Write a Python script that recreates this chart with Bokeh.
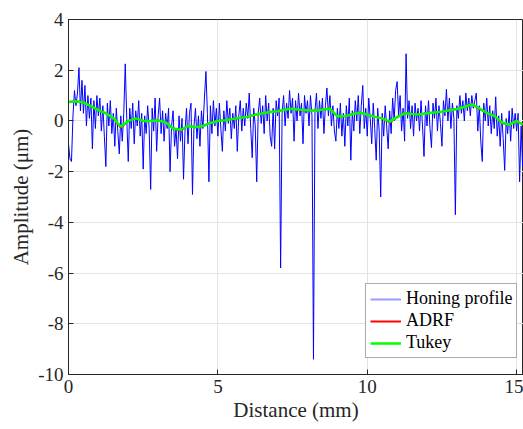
import numpy as np
from bokeh.plotting import figure
from bokeh.models import Range1d, FixedTicker, Legend, LegendItem
from bokeh.embed import file_html
from bokeh.resources import INLINE

# ---- data ----
step = 0.05  # sampling distance of the profile (mm)
profile = [
    -0.9, -1.5, -1.6, 0.2, 1.2, 0.6, 1.1, 2.1, 0.4, 1.6, 0.3, 1.4, -0.2, 1.0, 0.1, 0.9, -1.1, 0.8, -0.3, 1.0,
    0.2, 0.9, -0.4, 0.6, -0.6, -1.8, 0.7, -0.2, 0.8, -0.5, 0.3, -1.0, 0.5, -0.4, -1.3, 0.2, -0.8, 0.3, 2.25, 0.1,
    -1.6, 0.5, -0.3, 0.7, -0.9, 0.4, -0.2, 0.8, -0.6, 0.3, -1.9, 0.2, -0.5, 0.6, -0.3, -2.7, 0.5, -0.4, 0.9, -1.2,
    0.2, 0.9, -0.5, 0.4, -0.8, 0.3, -0.3, 0.5, -2.0, -0.2, 0.4, -1.0, -0.3, -1.5, 0.2, -0.8, 0.1, -2.3, -0.4, 0.5,
    -0.9, 0.3, 0.7, -2.9, -0.2, 0.5, -0.7, 0.2, -1.0, 0.4, -0.3, 0.9, 1.95, 0.3, -2.4, 0.6, -0.5, 0.8, -0.2, 0.5,
    -0.6, 0.7, -0.3, -1.2, 0.4, -0.4, 0.8, -0.1, 0.5, -0.7, 0.3, -0.3, 0.6, -1.2, 0.2, 0.8, -0.4, 0.5, -0.2, 0.7,
    0.1, 1.1, -0.3, -1.45, 0.5, -0.2, -2.4, 0.3, 0.9, -0.1, 0.6, -0.5, 1.0, 0.0, 0.7, -0.6, -1.0, 0.5, -1.1, 0.8,
    0.2, 0.9, -5.8, 0.3, 1.0, -0.2, 0.7, 0.1, 1.2, 0.3, 0.9, -0.8, 0.8, 0.0, 1.1, 0.2, 0.7, -0.9, 1.0, 0.3,
    0.8, -0.2, 1.0, 0.2, -9.4, 0.4, 1.1, -0.3, 0.8, 0.1, 0.9, -0.5, 0.6, 1.3, 0.2, 1.0, -0.2, 0.6, -0.4, -0.8,
    0.5, -0.3, 0.7, -0.6, 0.3, -1.0, 0.6, -0.2, 0.9, -1.55, 0.4, -0.4, 0.8, 0.0, 1.0, -0.5, 0.6, 1.4, -0.3, 0.5,
    -0.6, 0.9, 0.1, -0.9, 0.7, -0.3, -1.55, 0.5, -0.4, -3.0, 0.3, -0.6, 0.6, -0.2, -1.1, 0.4, -0.5, 0.9, 0.0, 1.2,
    1.55, 0.2, 1.0, -0.4, 0.5, -0.8, 2.65, 0.1, 0.8, -0.3, 0.6, -0.6, 0.7, 0.0, 0.5, -0.4, 0.8, -0.2, -1.4, 0.6,
    -0.2, 0.8, -0.3, -1.05, 0.7, 0.1, 0.9, -0.4, 0.6, -0.1, -1.0, 0.8, 0.2, 1.25, 0.0, 0.9, -0.3, 0.7, 0.1, -3.7,
    0.6, 0.1, 1.0, 0.3, 0.8, 0.0, 1.1, 0.4, 0.9, 0.2, 1.0, 0.5, 0.8, 1.1, -0.4, 0.6, -0.8, -1.6, 0.7, 0.0,
    0.9, -0.2, 0.6, -0.5, 0.4, -0.3, 0.95, -0.6, 0.2, -1.0, 0.3, -0.7, -1.95, 0.1, -0.5, 0.4, -0.8, 0.5, -0.3, 0.3,
    -0.4, 0.3, -2.4, -0.2, -1.8,
]
profile_x = [round(i * step, 2) for i in range(len(profile))]

filt_x = [0.0, 0.25, 0.5, 0.75, 1.0, 1.25, 1.5, 1.75, 2.0, 2.25, 2.5, 2.75, 3.0, 3.25, 3.5, 3.75,
          4.0, 4.25, 4.5, 4.75, 5.0, 5.25, 5.5, 5.75, 6.0, 6.25, 6.5, 6.75, 7.0, 7.25, 7.5, 7.75,
          8.0, 8.25, 8.5, 8.75, 9.0, 9.25, 9.5, 9.75, 10.0, 10.25, 10.5, 10.75, 11.0, 11.25, 11.5, 11.75,
          12.0, 12.25, 12.5, 12.75, 13.0, 13.25, 13.5, 13.75, 14.0, 14.25, 14.5, 14.75, 15.0, 15.2]
tukey = [0.75, 0.78, 0.73, 0.58, 0.43, 0.3, 0.12, -0.22, 0.0, 0.1, 0.0, 0.0, 0.02, -0.05, -0.3, -0.35,
         -0.2, -0.25, -0.2, -0.08, 0.0, 0.03, 0.08, 0.12, 0.17, 0.24, 0.3, 0.35, 0.38, 0.45, 0.48, 0.44,
         0.42, 0.4, 0.45, 0.48, 0.18, 0.18, 0.27, 0.32, 0.25, 0.16, 0.1, -0.03, 0.15, 0.3, 0.27, 0.25,
         0.3, 0.33, 0.36, 0.42, 0.47, 0.55, 0.65, 0.5, 0.32, 0.2, -0.05, -0.15, 0.0, -0.15]
adrf = [0.75, 0.78, 0.73, 0.58, 0.43, 0.3, 0.12, -0.26, 0.0, 0.1, 0.0, 0.0, 0.02, -0.05, -0.3, -0.38,
        -0.2, -0.25, -0.2, -0.08, 0.0, 0.03, 0.08, 0.12, 0.17, 0.24, 0.3, 0.35, 0.38, 0.45, 0.48, 0.42,
        0.42, 0.4, 0.45, 0.48, 0.18, 0.18, 0.27, 0.32, 0.25, 0.16, 0.1, -0.06, 0.15, 0.3, 0.27, 0.25,
        0.3, 0.33, 0.36, 0.42, 0.47, 0.55, 0.65, 0.48, 0.32, 0.2, -0.08, -0.15, 0.0, -0.15]

x_ticks = [0, 5, 10, 15]
y_ticks = [-10, -8, -6, -4, -2, 0, 2, 4]
y_tick_labels = {t: str(t) for t in y_ticks}  # plain hyphen-minus as in the reference
x_tick_labels = {t: str(t) for t in x_ticks}

FONT = "Liberation Serif"
TXT = "#262626"

p = figure(width=523, height=429, output_backend="svg", toolbar_location=None,
           x_range=Range1d(0, 15.23), y_range=Range1d(-10, 4),
           min_border_left=68, min_border_right=0, min_border_top=19, min_border_bottom=55)

r_prof = p.line(profile_x, profile, line_color="#0000ff", line_width=1.0)
r_adrf = p.line(filt_x, adrf, line_color="#ff0000", line_width=2)
r_tuk = p.line(filt_x, tukey, line_color="#00ff00", line_width=2.5)
# legend swatch for the profile (the thin line appears light in the reference legend);
# its own data lie left of the visible x range so only the legend shows it
r_prof_key = p.line([-2, -1], [0, 0], line_color="#9c9cff", line_width=2)

p.xaxis.ticker = FixedTicker(ticks=x_ticks)
p.yaxis.ticker = FixedTicker(ticks=y_ticks)
p.xaxis.major_label_overrides = x_tick_labels
p.yaxis.major_label_overrides = y_tick_labels
p.xaxis.axis_label = "Distance (mm)"
p.yaxis.axis_label = "Amplitude (μm)"
for ax in (p.xaxis, p.yaxis):
    ax.major_label_text_font = "Times New Roman, Liberation Serif, serif"
    ax.major_label_text_font_size = "19px"
    ax.major_label_text_font_style = "normal"
    ax.major_label_text_color = TXT
    ax.axis_label_text_font = FONT
    ax.axis_label_text_font_size = "21px"
    ax.axis_label_text_font_style = "normal"
    ax.axis_label_text_color = TXT
    ax.axis_line_color = TXT
    ax.major_tick_line_color = TXT
    ax.major_tick_in = 5
    ax.major_tick_out = 0
    ax.minor_tick_line_color = None
p.xaxis.major_label_standoff = 5
p.yaxis.major_label_standoff = 5
p.xaxis.axis_label_standoff = 2
p.yaxis.axis_label_standoff = 2

p.xgrid.grid_line_color = "#e3e3e3"
p.ygrid.grid_line_color = "#e3e3e3"
p.outline_line_color = TXT
p.outline_line_width = 1
p.background_fill_color = "white"
p.border_fill_color = "white"

legend = Legend(items=[LegendItem(label="Honing profile", renderers=[r_prof_key]),
                       LegendItem(label="ADRF", renderers=[r_adrf]),
                       LegendItem(label="Tukey", renderers=[r_tuk])],
                location=(297, 16))
legend.label_text_font = FONT
legend.label_text_font_size = "18px"
legend.label_text_color = "black"
legend.glyph_width = 31
legend.glyph_height = 20
legend.label_height = 20
legend.label_standoff = 5
legend.spacing = 1
legend.padding = 4
legend.margin = 0
legend.border_line_color = "#555555"
legend.border_line_width = 1
legend.background_fill_alpha = 1
p.add_layout(legend, "center")

open("out.html", "w").write(file_html(p, INLINE))
